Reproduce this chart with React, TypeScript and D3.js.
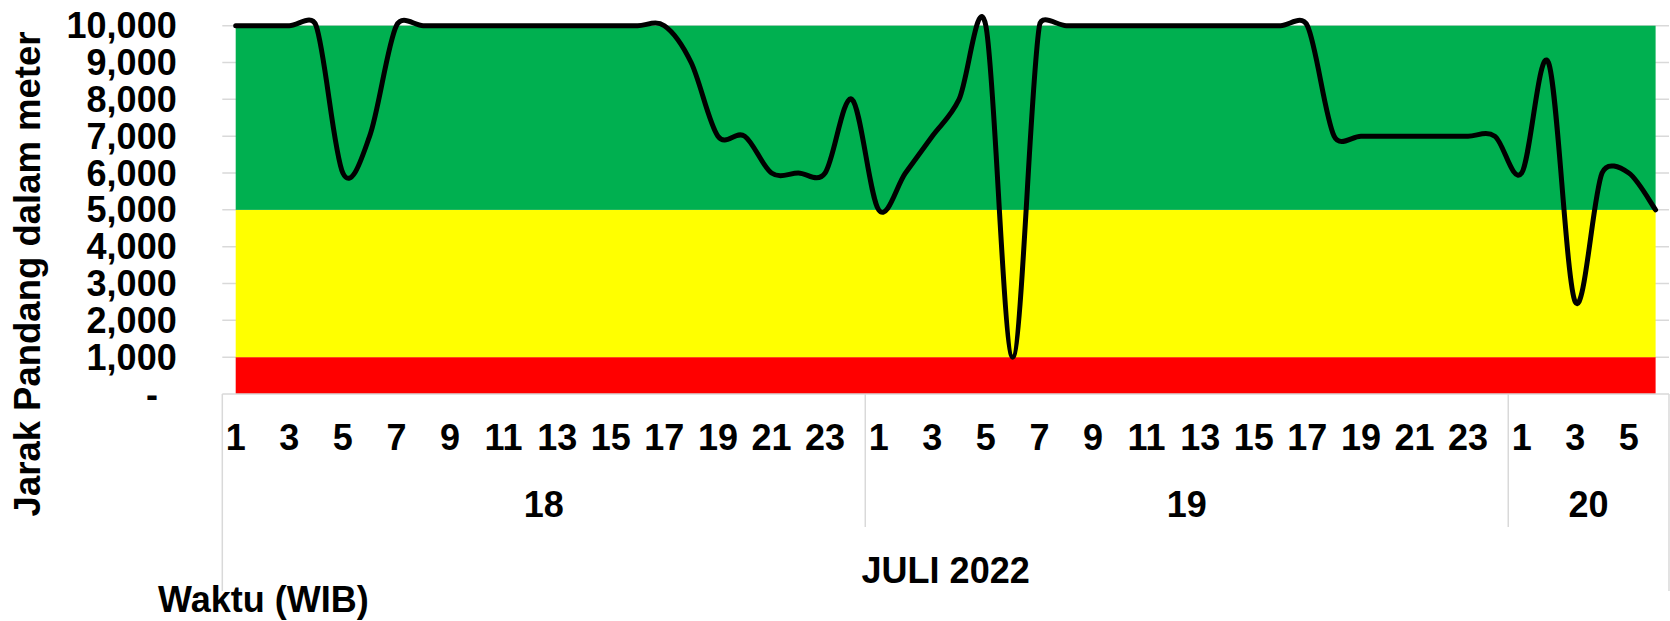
import { useEffect, useRef } from "react";
import * as d3 from "d3";

// hours shown for each day (JULI 2022)
const days = ["18", "19", "20"];
const hoursPerDay = [24, 24, 6];

// visibility in meters, hour by hour
const day18 = [10000, 10000, 10000, 10000, 6000, 7000, 10000, 10000, 10000, 10000, 10000, 10000,
  10000, 10000, 10000, 10000, 10000, 9000, 7000, 7000, 6000, 6000, 6000, 8000];
const day19 = [5000, 6000, 7000, 8000, 10000, 1000, 10000, 10000, 10000, 10000, 10000, 10000,
  10000, 10000, 10000, 10000, 10000, 7000, 7000, 7000, 7000, 7000, 7000, 7000];
const day20 = [6000, 9000, 2500, 6000, 6000, 5000];

// threshold bands
const bands = [
  { from: 0, to: 1000, color: "#FF0000" },
  { from: 1000, to: 5000, color: "#FFFF00" },
  { from: 5000, to: 10000, color: "#00B050" },
];

const yTicks = d3.range(0, 10001, 1000);

const W = 1670;
const H = 621;
const FONT = "'Liberation Sans', Arial, sans-serif";

// spreadsheet-like smoothing: catmull-rom tangents, control arm capped at half the segment
function smoothPath(pts: [number, number][]) {
  const p = d3.path();
  const n = pts.length;
  const tan = (i: number): [number, number] => {
    const a = pts[Math.max(0, i - 1)];
    const b = pts[Math.min(n - 1, i + 1)];
    return [(b[0] - a[0]) / 6, (b[1] - a[1]) / 6];
  };
  const cap = (t: [number, number], len: number): [number, number] => {
    const l = Math.hypot(t[0], t[1]);
    const m = len * 0.5;
    if (l > m && l > 0) return [(t[0] * m) / l, (t[1] * m) / l];
    return t;
  };
  p.moveTo(pts[0][0], pts[0][1]);
  for (let i = 0; i < n - 1; i++) {
    const a = pts[i];
    const b = pts[i + 1];
    const len = Math.hypot(b[0] - a[0], b[1] - a[1]);
    const t1 = cap(tan(i), len);
    const t2 = cap(tan(i + 1), len);
    p.bezierCurveTo(a[0] + t1[0], a[1] + t1[1], b[0] - t2[0], b[1] - t2[1], b[0], b[1]);
  }
  return p.toString();
}

export default function App() {
  const svgRef = useRef<SVGSVGElement>(null);

  useEffect(() => {
    const svg = d3.select(svgRef.current);
    svg.selectAll("*").remove();

    const values = [...day18, ...day19, ...day20];
    const points = values.map((v, i) => ({ i, v }));
    const dayIdx: { day: string; hour: number; i: number }[] = [];
    let k = 0;
    days.forEach((d, di) => {
      for (let h = 1; h <= hoursPerDay[di]; h++) dayIdx.push({ day: d, hour: h, i: k++ });
    });

    const x = d3.scalePoint<number>()
      .domain(points.map(p => p.i))
      .range([235.7, 1655.6]);
    const step = x.step();
    const left = x(0)! - step / 2;
    const right = x(points.length - 1)! + step / 2;

    const y = d3.scaleLinear().domain([0, 10000]).range([394, 25.7]);

    // gridlines
    svg.append("g")
      .selectAll("line")
      .data(yTicks.filter(t => t > 0))
      .join("line")
      .attr("x1", left)
      .attr("x2", right)
      .attr("y1", d => y(d))
      .attr("y2", d => y(d))
      .attr("stroke", "#D9D9D9")
      .attr("stroke-width", 1.5);

    // colored bands
    svg.append("g")
      .selectAll("rect")
      .data(bands)
      .join("rect")
      .attr("x", x(0)!)
      .attr("width", x(points.length - 1)! - x(0)!)
      .attr("y", d => y(d.to))
      .attr("height", d => y(d.from) - y(d.to))
      .attr("fill", d => d.color);

    // category axis box
    const axisG = svg.append("g").attr("stroke", "#D9D9D9").attr("stroke-width", 1.5);
    axisG.append("line").attr("x1", left).attr("x2", right).attr("y1", y(0)).attr("y2", y(0));
    axisG.append("line").attr("x1", left).attr("x2", left).attr("y1", y(0)).attr("y2", 591);
    axisG.append("line").attr("x1", right).attr("x2", right).attr("y1", y(0)).attr("y2", 591);

    let start = 0;
    const dayRanges = days.map((d, di) => {
      const a = x(start)! - step / 2;
      const b = x(start + hoursPerDay[di] - 1)! + step / 2;
      start += hoursPerDay[di];
      return { d, a, b };
    });
    axisG.selectAll(".sep")
      .data(dayRanges.slice(1))
      .join("line")
      .attr("x1", r => r.a)
      .attr("x2", r => r.a)
      .attr("y1", y(0))
      .attr("y2", 527);

    // line
    svg.append("path")
      .attr("d", smoothPath(points.map(p => [x(p.i)!, y(p.v)] as [number, number])))
      .attr("fill", "none")
      .attr("stroke", "#000")
      .attr("stroke-width", 5)
      .attr("stroke-linejoin", "round")
      .attr("stroke-linecap", "round");

    const txt = svg.append("g")
      .attr("font-family", FONT)
      .attr("font-weight", "bold")
      .attr("font-size", 36)
      .attr("fill", "#000");

    // y tick labels
    txt.selectAll(".yl")
      .data(yTicks)
      .join("text")
      .attr("x", d => (d === 0 ? 158 : 176.7))
      .attr("y", d => y(d))
      .attr("dy", "0.35em")
      .attr("text-anchor", "end")
      .text(d => (d === 0 ? "-" : d3.format(",")(d)));

    // hour labels
    txt.selectAll(".hl")
      .data(dayIdx.filter(p => p.hour % 2 === 1))
      .join("text")
      .attr("x", p => x(p.i)!)
      .attr("y", 450)
      .attr("text-anchor", "middle")
      .text(p => p.hour);

    // day labels
    txt.selectAll(".dl")
      .data(dayRanges)
      .join("text")
      .attr("x", r => (r.a + r.b) / 2)
      .attr("y", 517)
      .attr("text-anchor", "middle")
      .text(r => r.d);

    txt.append("text")
      .attr("x", (left + right) / 2)
      .attr("y", 583)
      .attr("text-anchor", "middle")
      .text("JULI 2022");

    txt.append("text")
      .attr("x", 158)
      .attr("y", 612)
      .text("Waktu (WIB)");

    txt.append("text")
      .attr("transform", "translate(40,274) rotate(-90)")
      .attr("text-anchor", "middle")
      .attr("font-size", 36.5)
      .text("Jarak Pandang dalam meter");
  }, []);

  return (
    <svg
      ref={svgRef}
      width={W}
      height={H}
      style={{ position: "absolute", left: 0, top: 0, background: "#fff" }}
    />
  );
}
